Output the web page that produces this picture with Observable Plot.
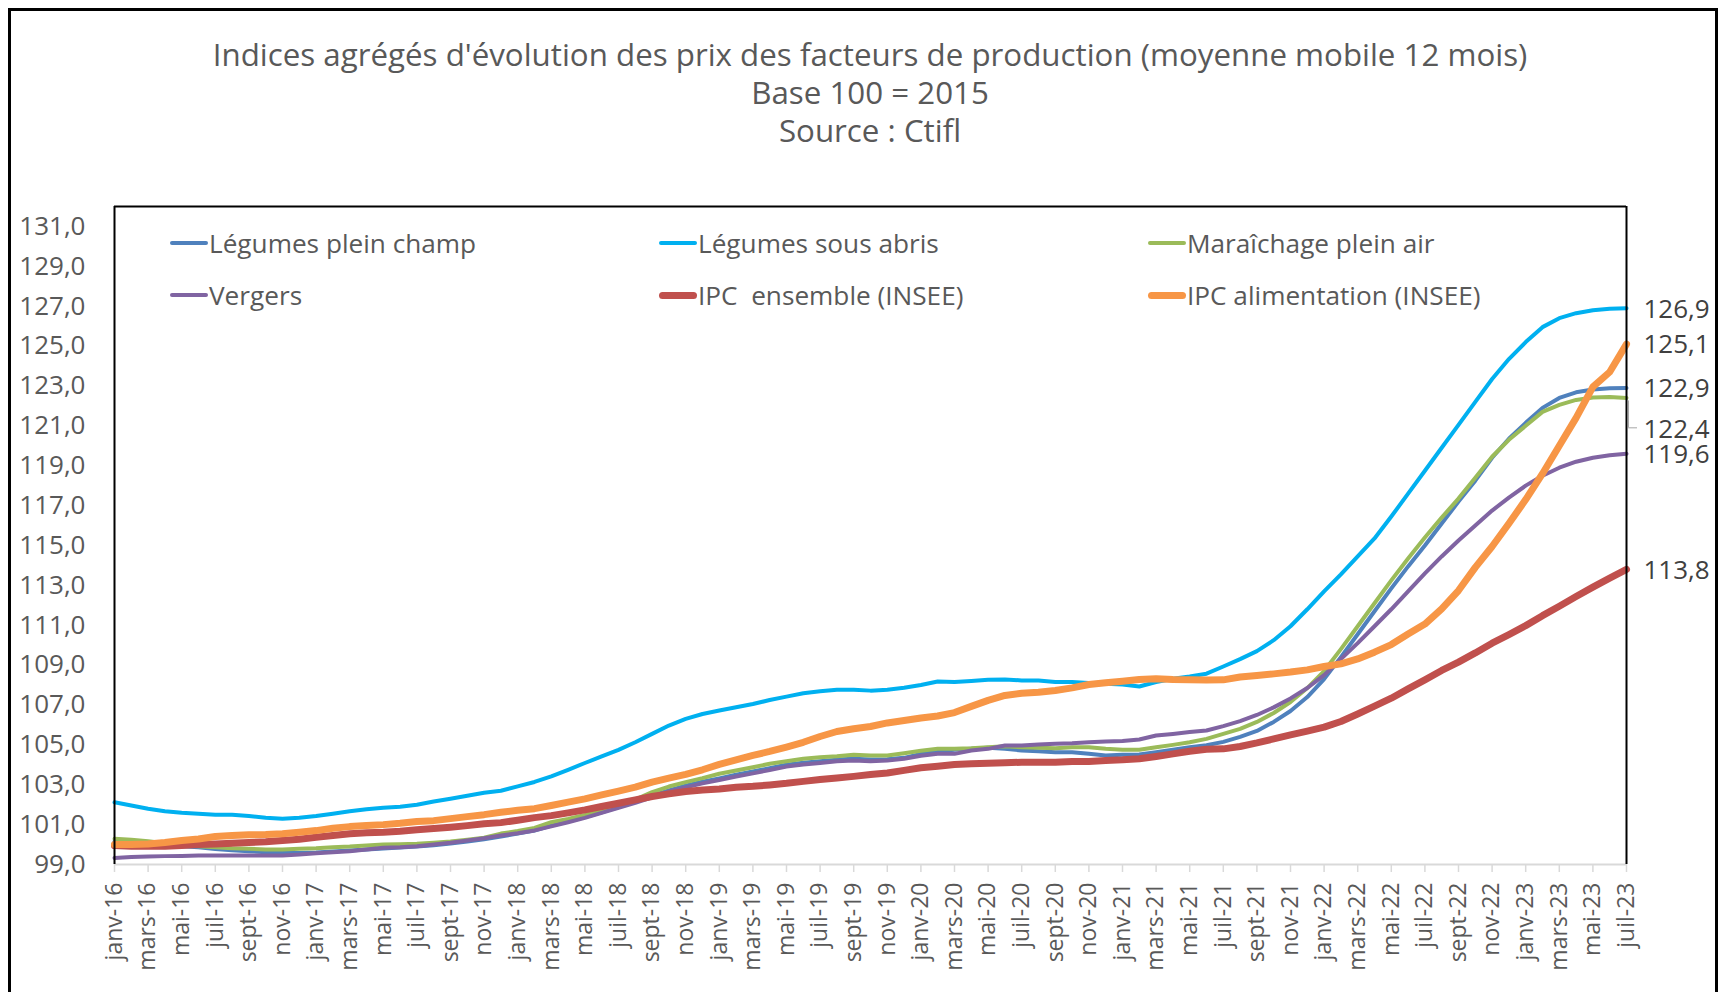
<!DOCTYPE html>
<html><head><meta charset="utf-8">
<script src="https://cdn.jsdelivr.net/npm/d3@7"></script>
<script src="https://cdn.jsdelivr.net/npm/@observablehq/plot@0.6"></script>
<style>
html,body{margin:0;padding:0;background:#fff;}
#page{position:relative;width:1723px;height:992px;overflow:hidden;font-family:"Open Sans",sans-serif;}
#border{position:absolute;left:8px;top:8px;width:1710px;height:1000px;border:3px solid #000;box-sizing:border-box;}
.t{position:absolute;left:870px;transform:translate(-50%,-50%);white-space:nowrap;color:#595959;font-size:31.3px;}
#chart{position:absolute;left:0;top:180px;}
.lg{position:absolute;display:flex;align-items:center;color:#595959;font-size:26.2px;transform:translateY(-50%);white-space:pre;}
.sw{width:38px;border-radius:4px;margin-right:1px;}
</style></head>
<body><div id="page"><div id="border"></div><div id="titles"></div><div id="chart"></div><div id="legend"></div></div>
<script>
// ---- data ----
const titleLines = ["Indices agrégés d'évolution des prix des facteurs de production (moyenne mobile 12 mois)", "Base 100 = 2015", "Source : Ctifl"];
const monthNames = ["janv","févr","mars","avr","mai","juin","juil","août","sept","oct","nov","déc"];
const years = ["16","17","18","19","20","21","22","23"];
const yTicks = [99,101,103,105,107,109,111,113,115,117,119,121,123,125,127,129,131];

const seriesNames = ["Légumes plein champ","Légumes sous abris","Maraîchage plein air","Vergers","IPC  ensemble (INSEE)","IPC alimentation (INSEE)"];
const seriesColors = ["#4F81BD","#00B0F0","#9BBB59","#8064A2","#C0504D","#F79646"];
const seriesWidths = [4,4,4,4,7,7];

const legumesPleinChamp = [100.15,100.1,100.05,99.98,99.92,99.86,99.78,99.72,99.67,99.62,99.58,99.58,99.6,99.65,99.7,99.75,99.8,99.85,99.9,99.97,100.05,100.15,100.27,
 100.4,100.55,100.7,100.95,101.15,101.38,101.62,101.88,102.14,102.45,102.72,102.95,103.15,103.32,103.5,103.66,103.83,104.0,104.1,104.18,104.26,104.3,104.27,104.28,104.35,104.55,
 104.68,104.75,104.8,104.85,104.8,104.72,104.68,104.63,104.63,104.55,104.47,104.5,104.52,104.63,104.75,104.88,
 104.98,105.15,105.4,105.7,106.15,106.7,107.4,108.3,109.4,110.55,111.7,112.85,113.95,115.0,116.1,117.2,118.25,119.4,120.35,121.15,121.9,122.4,122.68,122.82,122.88,122.9];
const legumesSousAbris = [102.12,101.96,101.8,101.67,101.6,101.55,101.5,101.5,101.43,101.35,101.3,101.35,101.43,101.55,101.67,101.77,101.85,101.9,102.0,102.16,102.3,102.45,102.6,102.7,102.92,103.14,
 103.42,103.75,104.09,104.42,104.75,105.13,105.55,105.97,106.3,106.55,106.72,106.89,107.05,107.25,107.42,107.59,107.69,107.76,107.77,107.72,107.76,107.86,108.0,
 108.18,108.15,108.2,108.26,108.28,108.23,108.23,108.15,108.15,108.1,108.06,108.03,107.93,108.15,108.32,108.43,108.57,108.93,109.3,109.7,
 110.25,110.95,111.8,112.7,113.55,114.45,115.35,116.45,117.6,118.75,119.9,121.05,122.2,123.35,124.35,125.2,125.95,126.4,126.65,126.8,126.87,126.9];
const maraichagePleinAir = [100.29,100.24,100.17,100.07,99.99,99.92,99.87,99.82,99.79,99.75,99.75,99.79,99.82,99.87,99.9,99.95,100.0,100.02,100.04,100.09,100.15,100.24,100.34,
 100.55,100.68,100.83,101.12,101.29,101.49,101.71,102.0,102.26,102.63,102.91,103.13,103.33,103.55,103.71,103.88,104.05,104.18,104.3,104.38,104.43,104.5,104.47,104.47,104.58,104.7,
 104.8,104.8,104.83,104.88,104.93,104.88,104.85,104.83,104.88,104.88,104.8,104.76,104.75,104.88,105.0,105.13,
 105.3,105.55,105.8,106.15,106.6,107.15,107.85,108.7,109.8,110.95,112.1,113.25,114.35,115.4,116.4,117.35,118.4,119.45,120.3,121.0,121.7,122.05,122.3,122.42,122.44,122.4];
const vergers = [99.33,99.37,99.4,99.42,99.43,99.45,99.45,99.45,99.45,99.45,99.45,99.5,99.57,99.62,99.67,99.75,99.84,99.87,99.92,100.0,100.09,100.2,100.32,
 100.45,100.57,100.71,100.91,101.12,101.34,101.59,101.84,102.09,102.37,102.66,102.87,103.07,103.24,103.41,103.57,103.74,103.91,104.01,104.09,104.18,104.21,104.18,104.21,104.3,104.45,
 104.55,104.55,104.72,104.8,104.97,104.97,105.02,105.05,105.08,105.13,105.17,105.19,105.27,105.47,105.55,105.64,
 105.72,105.94,106.19,106.5,106.88,107.33,107.85,108.5,109.3,110.1,110.95,111.8,112.7,113.6,114.45,115.25,116.0,116.75,117.4,118.0,118.5,118.9,119.2,119.4,119.52,119.6];
const ipcEnsemble = [99.95,99.92,99.92,99.92,99.95,100.0,100.03,100.07,100.1,100.14,100.2,100.27,100.37,100.45,100.54,100.59,100.62,100.67,100.74,100.8,100.87,100.95,101.04,
 101.1,101.22,101.35,101.45,101.59,101.74,101.91,102.07,102.24,102.41,102.54,102.66,102.74,102.79,102.87,102.92,102.99,103.07,103.17,103.26,103.34,103.42,103.51,103.59,103.72,103.85,
 103.93,104.02,104.05,104.08,104.1,104.13,104.13,104.13,104.17,104.17,104.22,104.25,104.3,104.42,104.55,104.68,
 104.78,104.8,104.92,105.1,105.3,105.5,105.69,105.89,106.17,106.55,106.94,107.34,107.81,108.26,108.73,109.15,109.61,110.1,110.53,110.98,111.48,111.95,112.44,112.91,113.36,113.8];
const ipcAlimentation = [100.0,100.0,100.03,100.1,100.2,100.28,100.4,100.45,100.49,100.5,100.54,100.62,100.7,100.82,100.9,100.95,101.0,101.07,101.16,101.2,101.3,101.4,101.5,
 101.62,101.72,101.8,101.96,102.13,102.29,102.49,102.68,102.88,103.13,103.33,103.52,103.75,104.02,104.25,104.47,104.67,104.89,105.13,105.42,105.67,105.81,105.92,106.1,106.22,106.35,
 106.45,106.62,106.93,107.23,107.48,107.59,107.64,107.73,107.86,108.03,108.11,108.19,108.28,108.32,108.28,108.26,
 108.25,108.26,108.4,108.48,108.56,108.65,108.76,108.93,109.06,109.31,109.65,110.03,110.56,111.06,111.82,112.74,113.9,114.95,116.1,117.3,118.6,120.0,121.4,122.95,123.7,125.1];

const seriesValues = [legumesPleinChamp, legumesSousAbris, maraichagePleinAir, vergers, ipcEnsemble, ipcAlimentation];
const shiftedLabel = "Maraîchage plein air"; // its end label sits lower, with a leader line

// ---- build ----
const months = years.flatMap(y => monthNames.map(m => `${m}-${y}`)).slice(0, legumesSousAbris.length);
const tickMonths = months.filter((d, i) => i % 2 === 0);
const last = months[months.length - 1];
const fmt = v => v.toFixed(1).replace(".", ",");

const rows = seriesNames.flatMap((s, k) => seriesValues[k].map((v, i) => ({serie: s, month: months[i], value: v})));
const ends = seriesNames.map((s, k) => ({serie: s, month: last, value: seriesValues[k][seriesValues[k].length - 1]}));
const endsNormal = ends.filter(d => d.serie !== shiftedLabel);
const endsShifted = ends.filter(d => d.serie === shiftedLabel);

// titles
const titles = document.getElementById("titles");
const titleY = [54, 92, 130];
titleLines.forEach((t, i) => {
  const d = document.createElement("div");
  d.className = "t"; d.textContent = t; d.style.top = titleY[i] + "px";
  titles.appendChild(d);
});

const lineMarks = seriesNames.map((s, k) =>
  Plot.line(rows.filter(r => r.serie === s), {x: "month", y: "value", stroke: seriesColors[k], strokeWidth: seriesWidths[k], strokeLinejoin: "round", strokeLinecap: "round"}));

const chart = Plot.plot({
  width: 1723, height: 812,
  marginTop: 26, marginBottom: 128, marginLeft: 114, marginRight: 97,
  style: {fontFamily: "Open Sans", fontSize: "26px", color: "#595959", background: "transparent", overflow: "visible"},
  x: {type: "point", domain: months, padding: 0, label: null},
  y: {domain: [99, 132], label: null},
  marks: [
    Plot.axisY({ticks: yTicks, tickSize: 0, tickPadding: 29, tickFormat: fmt, fontSize: 26, fill: "#595959", label: null}),
    Plot.axisX({ticks: tickMonths, tickSize: 8, tickPadding: 10, tickRotate: -90, stroke: "#D9D9D9", strokeWidth: 1.5, fill: "#595959", fontSize: 23, label: null}),
    Plot.ruleY([99], {stroke: "#D9D9D9", strokeWidth: 2}),
    ...lineMarks,
    Plot.ruleX([months[0], last], {stroke: "#000", strokeWidth: 2}),
    Plot.ruleY([132], {stroke: "#000", strokeWidth: 2}),
    Plot.ruleX(endsShifted, {x: "month", y1: d => d.value - 0.15, y2: d => d.value - 1.5, stroke: "#A6A6A6", strokeWidth: 1, dx: 2}),
    Plot.ruleY(endsShifted, {y: d => d.value - 1.5, x1: "month", x2: "month", insetRight: -9, dx: 2, stroke: "#A6A6A6", strokeWidth: 1}),
    Plot.text(endsNormal, {x: "month", y: "value", text: d => fmt(d.value), textAnchor: "start", dx: 17, dy: 1, fill: "#404040", fontSize: 26}),
    Plot.text(endsShifted, {x: "month", y: "value", text: d => fmt(d.value), textAnchor: "start", dx: 17, dy: 32, fill: "#404040", fontSize: 26})
  ]
});
document.getElementById("chart").appendChild(chart);

// legend
const legend = document.getElementById("legend");
const legendPos = [[170,243],[659,243],[1148,243],[170,295],[659,295],[1148,295]];
seriesNames.forEach((s, k) => {
  const d = document.createElement("div");
  d.className = "lg";
  d.style.left = legendPos[k][0] + "px"; d.style.top = legendPos[k][1] + "px";
  const sw = document.createElement("div");
  sw.className = "sw"; sw.style.height = seriesWidths[k] + "px"; sw.style.background = seriesColors[k];
  d.appendChild(sw);
  const tx = document.createElement("span"); tx.textContent = s;
  d.appendChild(tx);
  legend.appendChild(d);
});
</script></body></html>
